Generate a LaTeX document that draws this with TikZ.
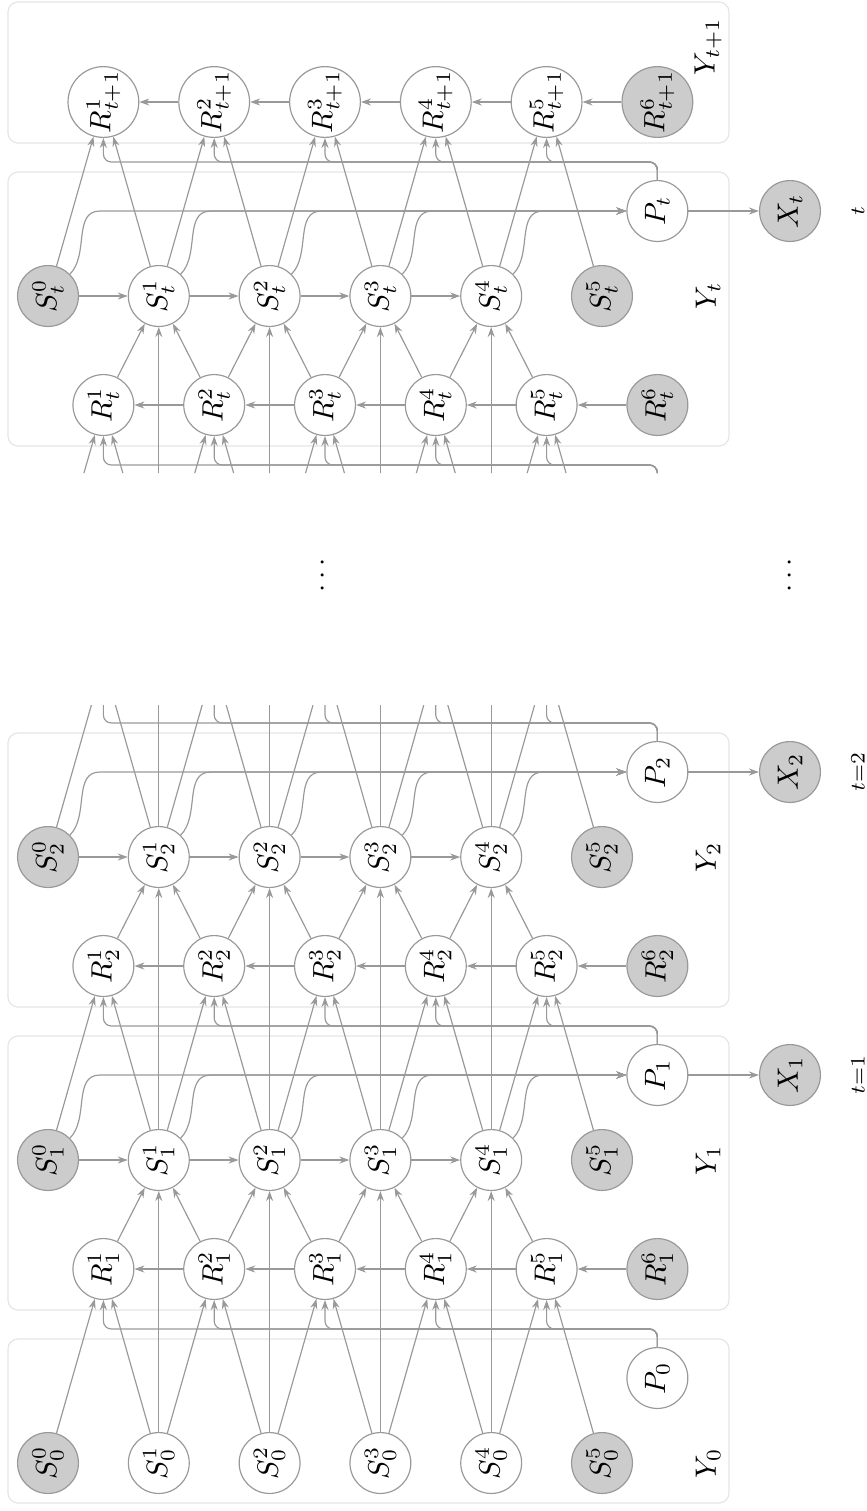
\documentclass[tikz,border=0pt]{standalone}
\usetikzlibrary{calc,arrows.meta}
\definecolor{edgegray}{gray}{0.6}
\definecolor{obsgray}{gray}{0.8}
\definecolor{boxgray}{gray}{0.9}
\tikzset{
  hid/.style={circle,draw=edgegray,fill=white,minimum size=20.7pt,inner sep=0pt,rotate=90},
  obs/.style={hid,fill=obsgray},
  lab/.style={rotate=90},
  arr/.style={draw=edgegray,-{Stealth[length=3.4pt,width=2.4pt]}},
  slice/.style={draw=boxgray,rounded corners=3.4pt},
}
\begin{document}
\begin{tikzpicture}[x=0.34pt,y=0.34pt]
\useasboundingbox (0,-1511) rectangle (866,0);
% Tranches temporelles
\draw[slice] (8,-1503) rectangle (729,-1339);
\draw[slice] (8,-1310) rectangle (729,-1036);
\draw[slice] (8,-1007) rectangle (729,-733);
\draw[slice] (8,-446) rectangle (729,-172);
\draw[slice] (8,-143) rectangle (729,-2);
\node[lab] (Y0) at (708,-1463) {$Y_0$};
\node[lab] (Y1) at (708,-1160) {$Y_1$};
\node[lab] (Y2) at (708,-857) {$Y_2$};
\node[lab] (Yt) at (708,-296) {$Y_t$};
\node[lab] (Yu) at (708,-47) {$Y_{t+1}$};
\node[lab] (D1) at (323,-575) {$\cdots$};
\node[lab] (D2) at (790,-575) {$\cdots$};
% Y_0
\node[obs] (S00) at (48,-1463) {$S^0_0$};
\foreach \k in {1,...,4}
  \node[hid] (S0\k) at ({48+110.8*\k},-1463) {$S^\k_0$};
\node[obs] (S05) at (602,-1463) {$S^5_0$};
\node[hid] (P0) at (657.4,-1378) {$P_0$};
% Y_1, Y_2, Y_t
\foreach \s/\r/\lbl in {1/1269/t{=}1,2/966/t{=}2,t/405/t} {
  \foreach \k in {1,...,5}
    \node[hid] (R\s\k) at ({110.8*\k-7.4},-\r) {$R^\k_\s$};
  \node[obs] (R\s6) at (657.4,-\r) {$R^6_\s$};
  \node[obs] (S\s0) at (48,-\r+109) {$S^0_\s$};
  \foreach \k in {1,...,4}
    \node[hid] (S\s\k) at ({48+110.8*\k},-\r+109) {$S^\k_\s$};
  \node[obs] (S\s5) at (602,-\r+109) {$S^5_\s$};
  \node[hid] (P\s) at (657.4,-\r+194) {$P_\s$};
  \node[obs] (X\s) at (790,-\r+194) {$X_\s$};
  \node[lab,font=\scriptsize] (T\s) at (858,-\r+194) {$\lbl$};
  \foreach \k [evaluate=\k as \j using int(\k+1)] in {1,...,5}
    \draw[arr] (R\s\j) -- (R\s\k);
  \foreach \k [evaluate=\k as \j using int(\k+1)] in {0,...,3}
    \draw[arr] (S\s\k) -- (S\s\j);
  \foreach \k [evaluate=\k as \j using int(\k+1)] in {1,...,4} {
    \draw[arr] (R\s\k) -- (S\s\k);
    \draw[arr] (R\s\j) -- (S\s\k);
  }
  \foreach \k in {0,...,4}
    \draw[arr] (S\s\k.-45) to[out=45,in=180] ($(S\s\k |- P\s)+(52,0)$) -- (P\s);
  \draw[arr] (P\s) -- (X\s);
}
% Y_{t+1}
\foreach \k in {1,...,5}
  \node[hid] (Ru\k) at ({110.8*\k-7.4},-102) {$R^\k_{t+1}$};
\node[obs] (Ru6) at (657.4,-102) {$R^6_{t+1}$};
\foreach \k [evaluate=\k as \j using int(\k+1)] in {1,...,5}
  \draw[arr] (Ru\j) -- (Ru\k);
% tranches cachees par les points
\foreach \k in {1,...,6}
  \coordinate (R3\k) at ({110.8*\k-7.4},-663);
\foreach \k in {0,...,5} {
  \coordinate (S3\k) at ({48+110.8*\k},-554);
  \coordinate (Ss\k) at ({48+110.8*\k},-599);
}
\coordinate (Ps) at (657.4,-514);
\begin{scope}
\clip (0,-1511) rectangle (866,-705) (0,-473) rectangle (866,0);
\foreach \s/\n/\b in {0/1/1329,1/2/1026,2/3/723,s/t/465,t/u/162} {
  \coordinate (B\s) at (657.4,-\b);
  \foreach \k [evaluate=\k as \j using int(\k+1)] in {0,...,4}
    \draw[arr] (S\s\k) -- (R\n\j);
  \foreach \k in {1,...,5} {
    \draw[arr] (S\s\k) -- (R\n\k);
    \draw[arr,rounded corners=2.7pt] (P\s) -- (B\s) -| (R\n\k);
  }
}
\foreach \s/\n in {0/1,1/2,2/3,s/t}
  \foreach \k in {1,...,4}
    \draw[arr] (S\s\k) -- (S\n\k);
\end{scope}
\end{tikzpicture}
\end{document}
